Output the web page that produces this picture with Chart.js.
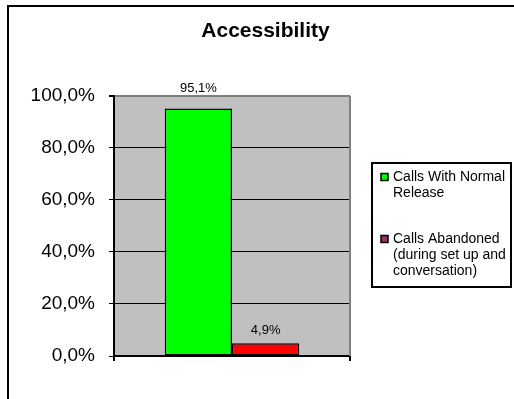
<!DOCTYPE html>
<html>
<head>
<meta charset="utf-8">
<script src="https://cdn.jsdelivr.net/npm/chart.js@4/dist/chart.umd.min.js"></script>
<style>
  html, body { margin: 0; padding: 0; background: #fff; }
  #wrap { width: 514px; height: 399px; }
</style>
</head>
<body>
<div id="wrap"><canvas id="chart" width="514" height="399"></canvas></div>
<script>
// chart data
const categories = [''];
const seriesNames = [
  ['Calls With Normal', 'Release'],
  ['Calls Abandoned', '(during set up and', 'conversation)']
];
const normalRelease = [95.1];
const abandoned = [4.9];
const yTicks = [0, 20, 40, 60, 80, 100];

const FONT = "Arial, 'Liberation Sans', sans-serif";

let fmtPct = (v) => v.toFixed(1).replace('.', ',') + '%';

// grey plot area, frame, value labels, legend box
let excelLook = {
  id: 'excelLook',
  beforeDraw(chart) {
    let ctx = chart.ctx, a = chart.chartArea;
    ctx.save();
    ctx.fillStyle = '#c0c0c0';
    ctx.fillRect(a.left, a.top, a.right - a.left, a.bottom - a.top);
    ctx.restore();
  },
  beforeDatasetsDraw(chart) {
    let ctx = chart.ctx, a = chart.chartArea;
    ctx.save();
    ctx.strokeStyle = '#808080';
    ctx.lineWidth = 2;
    ctx.beginPath();
    ctx.moveTo(a.right, a.top);
    ctx.lineTo(a.right, a.bottom);
    ctx.stroke();
    ctx.restore();
  },
  afterDraw(chart) {
    let ctx = chart.ctx, a = chart.chartArea;
    ctx.save();

    // value labels above bars (pushed above the plot when there is no room)
    ctx.fillStyle = '#000';
    ctx.font = '13px ' + FONT;
    ctx.textAlign = 'center';
    ctx.textBaseline = 'bottom';
    chart.data.datasets.forEach((ds, i) => {
      chart.getDatasetMeta(i).data.forEach((bar, j) => {
        let y = bar.y - a.top < 20 ? a.top - 1 : bar.y - 6;
        ctx.fillText(fmtPct(ds.data[j]), bar.x, y);
      });
    });

    // legend
    let lx = 372, ly = 163, lw = 139, lh = 124;
    ctx.strokeStyle = '#000';
    ctx.lineWidth = 2;
    ctx.strokeRect(lx, ly, lw, lh);
    ctx.font = '14px ' + FONT;
    ctx.textAlign = 'left';
    ctx.textBaseline = 'middle';
    let rowY = ly + 14;
    chart.data.datasets.forEach((ds) => {
      ctx.fillStyle = ds.legendColor;
      ctx.fillRect(lx + 9, rowY - 3.5, 7, 7);
      ctx.lineWidth = 1.5;
      ctx.strokeRect(lx + 9, rowY - 3.5, 7, 7);
      ctx.fillStyle = '#000';
      ds.label.forEach((line, k) => {
        ctx.fillText(line, lx + 21, rowY + k * 16);
      });
      rowY += ds.label.length * 16 + 30;
    });

    // outer chart frame
    ctx.lineWidth = 2;
    ctx.strokeStyle = '#000';
    ctx.strokeRect(8, 6, 600, 500);
    ctx.restore();
  }
};

let ctx = document.querySelector('#chart');
let chart = new Chart(ctx, {
  type: 'bar',
  data: {
    labels: categories,
    datasets: [
      {
        label: seriesNames[0],
        data: normalRelease,
        backgroundColor: '#00ff00',
        legendColor: '#00ff00',
        borderColor: '#000',
        borderWidth: 1.5,
        borderSkipped: false
      },
      {
        label: seriesNames[1],
        data: abandoned,
        backgroundColor: '#ff0000',
        legendColor: '#993366',
        borderColor: '#000',
        borderWidth: 1.5,
        borderSkipped: false
      }
    ]
  },
  options: {
    responsive: false,
    animation: false,
    devicePixelRatio: 1,
    layout: { padding: { left: 17, right: 0, top: 0, bottom: 0 } },
    datasets: { bar: { categoryPercentage: 0.57, barPercentage: 1 } },
    plugins: {
      legend: { display: false },
      tooltip: { enabled: false },
      title: {
        display: true,
        text: 'Accessibility',
        color: '#000',
        font: { family: FONT, size: 21, weight: 'bold', lineHeight: 1.2 },
        padding: { top: 19, bottom: 51.5 }
      }
    },
    scales: {
      x: {
        offset: true,
        grid: { offset: true, drawOnChartArea: false, tickLength: 5, color: '#000', lineWidth: 2 },
        border: { color: '#000', width: 2 },
        ticks: { display: true },
        afterFit(scale) { scale.height = 43; }
      },
      y: {
        min: 0,
        max: 100,
        afterBuildTicks(scale) { scale.ticks = yTicks.map(v => ({ value: v })); },
        ticks: {
          color: '#000',
          padding: 14,
          font: { family: FONT, size: 19 },
          callback: (v) => fmtPct(v)
        },
        grid: {
          color: (c) => c.tick && c.tick.value === 100 ? '#808080' : '#000',
          lineWidth: (c) => c.tick && c.tick.value === 100 ? 2 : 1,
          tickColor: '#000',
          tickLength: 5
        },
        border: { color: '#000', width: 2 },
        afterFit(scale) { scale.width = 97; }
      },
      spacer: {
        type: 'linear',
        position: 'right',
        display: true,
        ticks: { display: false },
        grid: { display: false },
        border: { display: false },
        afterFit(scale) { scale.width = 164; }
      }
    }
  },
  plugins: [excelLook]
});
</script>
</body>
</html>
